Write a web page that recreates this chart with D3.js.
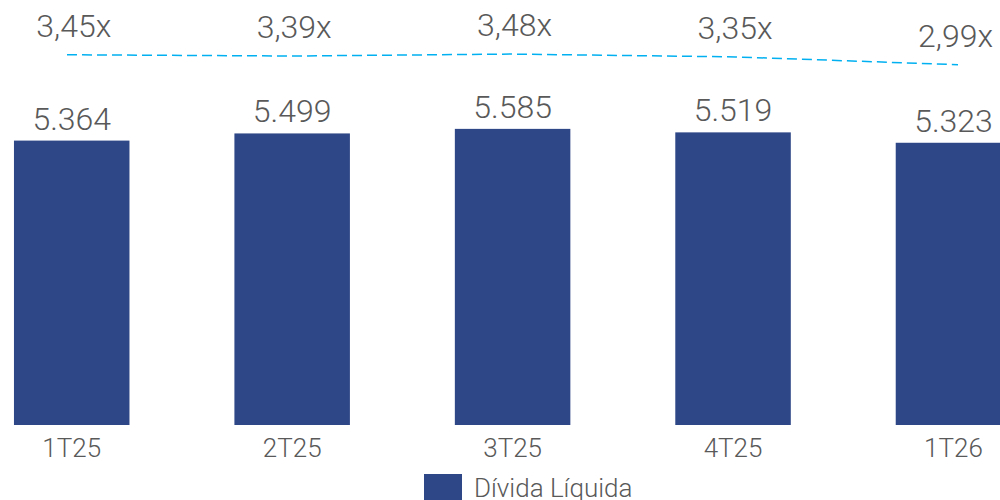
<!DOCTYPE html>
<html><head><meta charset="utf-8">
<script src="https://cdn.jsdelivr.net/npm/d3@7"></script>
<style>body{margin:0;background:#fff}svg{display:block}</style>
</head><body>
<svg id="c" width="1000" height="500"></svg>
<script>
const categories = ["1T25","2T25","3T25","4T25","1T26"];
const dividaLiquida = [5364, 5499, 5585, 5519, 5323];
const barLabels = ["5.364","5.499","5.585","5.519","5.323"];
const alavancagem = [3.45, 3.39, 3.48, 3.35, 2.99];
const ratioLabels = ["3,45x","3,39x","3,48x","3,35x","2,99x"];
const legendLabel = "Dívida Líquida";

const svg = d3.select("#c");
const font = "Roboto, 'Noto Sans', sans-serif";
const weight = 300;
const barColor = "#2e4786";
const lineColor = "#00b0f0";
const textColor = "#595959";

const x = d3.scaleBand().domain(categories).range([-38.5, 1063.7]).paddingInner(0.476).paddingOuter(0.238);
const y = d3.scaleLinear().domain([0, 8000]).range([425, 425 - 8000/18.86]);
const xl = d3.scalePoint().domain(categories).range([67, 958]);
const y2 = d3.scaleLinear().domain([0, 5]).range([129.6, 129.6 - 5*21.7]);

svg.append("g").selectAll("rect").data(categories).join("rect")
  .attr("x", d => x(d)).attr("width", x.bandwidth())
  .attr("y", (d,i) => y(dividaLiquida[i]))
  .attr("height", (d,i) => y(0) - y(dividaLiquida[i]))
  .attr("fill", barColor);

svg.append("g").selectAll("text").data(categories).join("text")
  .attr("x", d => x(d) + x.bandwidth()/2)
  .attr("y", (d,i) => y(dividaLiquida[i]) - 11)
  .attr("text-anchor", "middle")
  .attr("font-family", font).attr("font-weight", weight).attr("font-size", 32).attr("fill", textColor)
  .text((d,i) => barLabels[i]);

// x axis labels
const xAxis = d3.axisBottom(x).tickSize(0).tickPadding(0);
const ga = svg.append("g").attr("transform", "translate(0,438)").call(xAxis);
ga.select(".domain").remove();
ga.selectAll("text").attr("font-family", font).attr("font-weight", weight).attr("font-size", 26).attr("fill", textColor)
  .attr("dy", "0").attr("y", 19);

// line
const line = d3.line().x(d => xl(d[0])).y(d => y2(d[1]));
svg.append("path").datum(categories.map((c,i) => [c, alavancagem[i]]))
  .attr("d", line).attr("fill", "none").attr("stroke", lineColor)
  .attr("stroke-width", 1.5).attr("stroke-dasharray", "10,5");

svg.append("g").selectAll("text").data(categories).join("text")
  .attr("x", d => x(d) + x.bandwidth()/2 + 2)
  .attr("y", (d,i) => y2(alavancagem[i]) - 18)
  .attr("text-anchor", "middle")
  .attr("font-family", font).attr("font-weight", weight).attr("font-size", 32).attr("fill", textColor)
  .text((d,i) => ratioLabels[i]);

// legend
const lg = svg.append("g");
lg.append("rect").attr("x", 424).attr("y", 474).attr("width", 38).attr("height", 30).attr("fill", barColor);
lg.append("text").attr("x", 474).attr("y", 497).attr("font-family", font).attr("font-weight", weight).attr("font-size", 26)
  .attr("fill", textColor).text(legendLabel);
</script>
</body></html>
